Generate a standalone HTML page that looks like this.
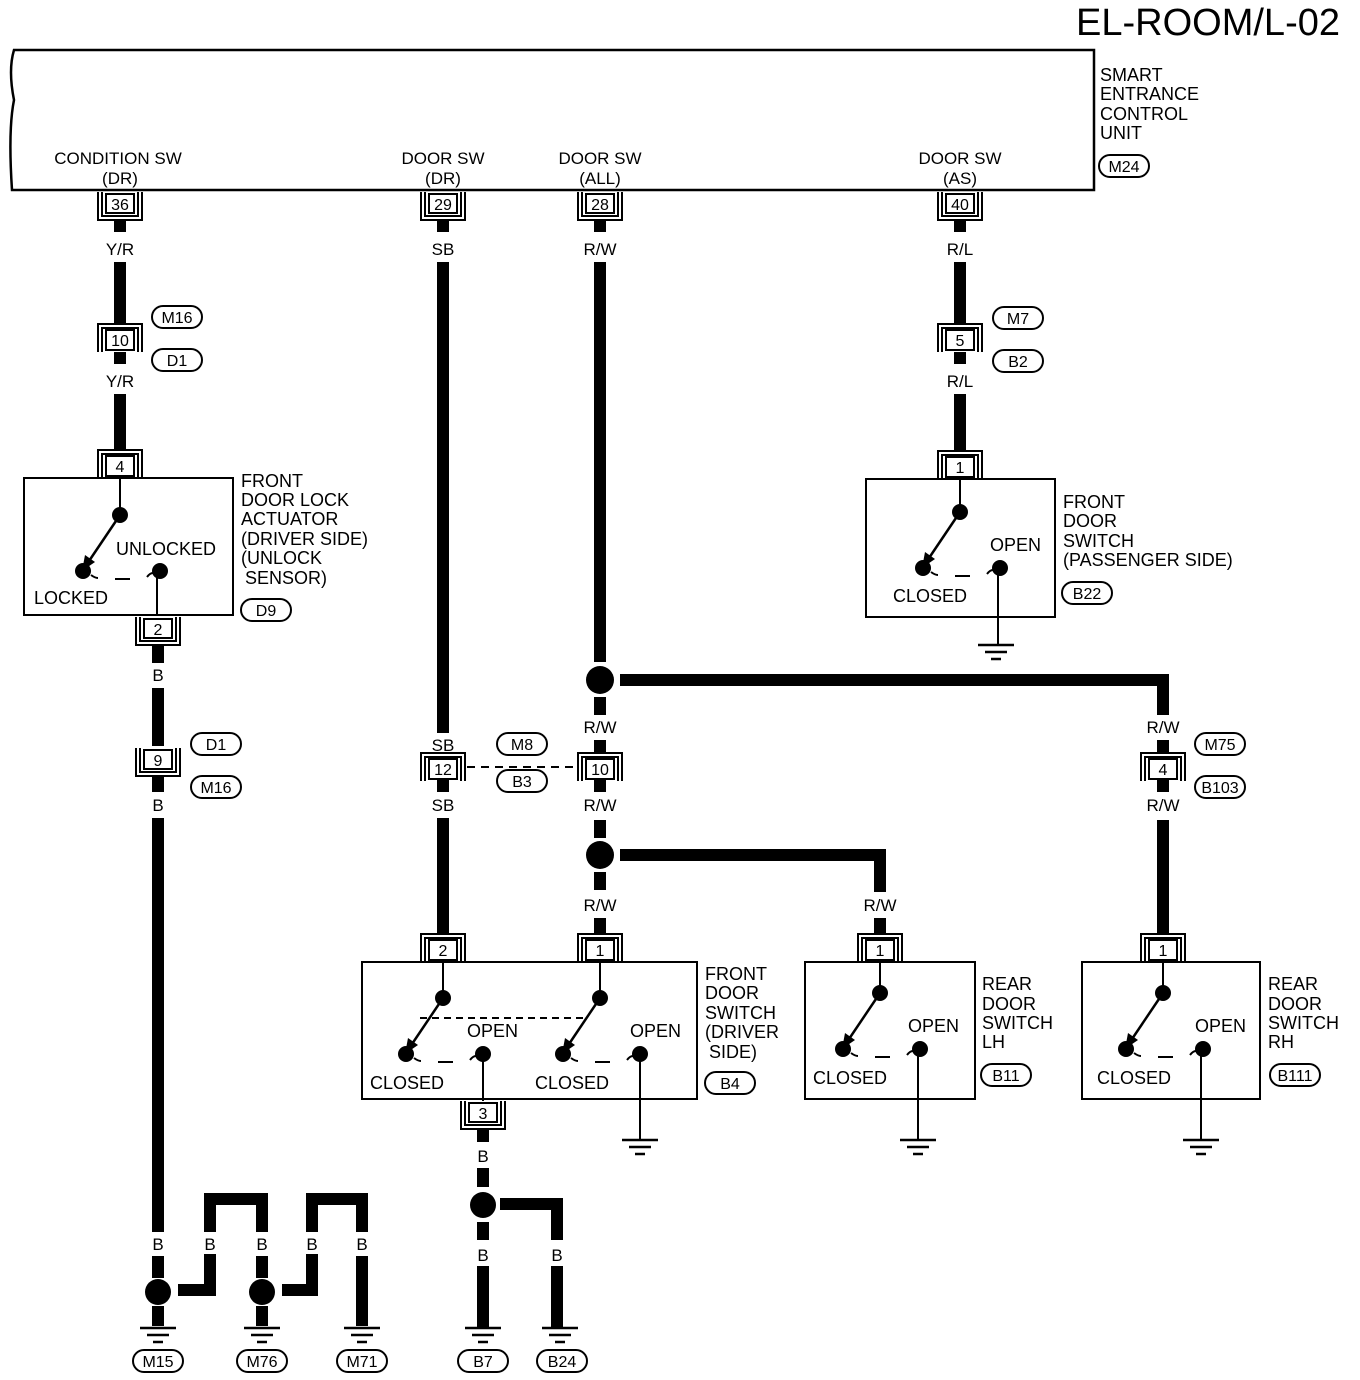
<!DOCTYPE html>
<html><head><meta charset="utf-8"><style>
html,body{margin:0;padding:0;background:#fff}
svg{display:block}
text{font-family:"Liberation Sans",Arial,sans-serif;fill:#000}
.w{stroke:#000;stroke-width:12;fill:none}
.t{stroke:#000;stroke-width:2;fill:none}
.l{font-size:18px}
.c{font-size:16px;text-anchor:middle}
.m{font-size:17px;text-anchor:middle}
</style></head><body>
<svg width="1360" height="1380" viewBox="0 0 1360 1380" xmlns="http://www.w3.org/2000/svg">
<defs>
<g id="cd"><path d="M-22,-2 V26 H22 V-2 M-18,-2 V22 H18 V-2" class="t"/><rect x="-14" y="0" width="28" height="19" fill="#fff" stroke="#000" stroke-width="2"/></g>
<g id="cu"><path d="M-22,22 V-6 H22 V22 M-18,22 V-2 H18 V22" class="t"/><rect x="-14" y="0" width="28" height="20" fill="#fff" stroke="#000" stroke-width="2"/></g>
<g id="gnd"><path d="M-18,0 H18 M-11,7 H11 M-5,14 H5" stroke="#000" stroke-width="2.5"/></g>
<g id="sw"><circle cx="0" cy="0" r="8"/><path d="M0,0 L-33,49" stroke="#000" stroke-width="2.5"/><path d="M-38,56 L-35,40 L-25,47 Z"/><circle cx="-37" cy="56" r="8"/><circle cx="40" cy="56" r="8"/><path d="M-29,60 Q-25,63 -22,63 M-5,64 H10 M27,62 Q30,58 33,58" class="t"/></g>
</defs>

<text x="1340" y="35" font-size="38" text-anchor="end">EL-ROOM/L-02</text>
<path d="M14,50 H1094 V190 H12 Q8,130 14,100 Q8,70 14,50 Z" stroke="#000" stroke-width="2.5" fill="none"/>
<text x="1100" y="81" class="l">SMART</text>
<text x="1100" y="100" class="l">ENTRANCE</text>
<text x="1100" y="120" class="l">CONTROL</text>
<text x="1100" y="139" class="l">UNIT</text>
<rect x="1099" y="155" width="50" height="22" rx="11" class="t"/><text x="1124" y="172" class="c">M24</text>

<text x="118" y="164" class="m">CONDITION SW</text><text x="120" y="184" class="m">(DR)</text>
<text x="443" y="164" class="m">DOOR SW</text><text x="443" y="184" class="m">(DR)</text>
<text x="600" y="164" class="m">DOOR SW</text><text x="600" y="184" class="m">(ALL)</text>
<text x="960" y="164" class="m">DOOR SW</text><text x="960" y="184" class="m">(AS)</text>

<!-- column A -->
<use href="#cd" x="120" y="194"/><text x="120" y="210" class="c">36</text>
<path d="M120,220 V232 M120,262 V324 M120,352 V364 M120,394 V450" class="w"/>
<text x="120" y="255" class="m">Y/R</text>
<use href="#cu" x="120" y="330"/>
<text x="120" y="346" class="c">10</text>
<text x="120" y="387" class="m">Y/R</text>
<rect x="152" y="306" width="50" height="22" rx="11" class="t"/><text x="177" y="323" class="c">M16</text>
<rect x="152" y="349" width="50" height="22" rx="11" class="t"/><text x="177" y="366" class="c">D1</text>
<use href="#cu" x="120" y="456"/><text x="120" y="472" class="c">4</text>
<rect x="24" y="478" width="209" height="137" class="t"/>
<path d="M120,478 V515" class="t"/>
<use href="#sw" x="120" y="515"/>
<path d="M157,571 V615" class="t"/>
<text x="116" y="555" class="l">UNLOCKED</text>
<text x="34" y="604" class="l">LOCKED</text>
<text x="241" y="487" class="l">FRONT</text>
<text x="241" y="506" class="l">DOOR LOCK</text>
<text x="241" y="525" class="l">ACTUATOR</text>
<text x="241" y="545" class="l">(DRIVER SIDE)</text>
<text x="241" y="564" class="l">(UNLOCK</text>
<text x="245" y="584" class="l">SENSOR)</text>
<rect x="241" y="599" width="50" height="22" rx="11" class="t"/><text x="266" y="616" class="c">D9</text>
<use href="#cd" x="158" y="619"/><text x="158" y="635" class="c">2</text>
<path d="M158,646 V663 M158,688 V746 M158,776 V792 M158,818 V1232 M158,1256 V1278 M158,1306 V1326" class="w"/>
<text x="158" y="681" class="m">B</text>
<use href="#cd" x="158" y="750"/><text x="158" y="766" class="c">9</text>
<rect x="191" y="733" width="50" height="22" rx="11" class="t"/><text x="216" y="750" class="c">D1</text>
<rect x="191" y="776" width="50" height="22" rx="11" class="t"/><text x="216" y="793" class="c">M16</text>
<text x="158" y="811" class="m">B</text>

<!-- bottom grounds left -->
<text x="158" y="1250" class="m">B</text>
<circle cx="158" cy="1292" r="13"/>
<path d="M178,1290 H210 V1254 M210,1232 V1199 H262 V1232 M262,1256 V1278 M262,1306 V1326" class="w"/>
<text x="210" y="1250" class="m">B</text><text x="262" y="1250" class="m">B</text>
<circle cx="262" cy="1292" r="13"/>
<path d="M282,1290 H312 V1254 M312,1232 V1199 H362 V1232 M362,1256 V1326" class="w"/>
<text x="312" y="1250" class="m">B</text><text x="362" y="1250" class="m">B</text>
<use href="#gnd" x="158" y="1328"/><use href="#gnd" x="262" y="1328"/><use href="#gnd" x="362" y="1328"/>
<rect x="133" y="1350" width="50" height="22" rx="11" class="t"/><text x="158" y="1367" class="c">M15</text>
<rect x="237" y="1350" width="50" height="22" rx="11" class="t"/><text x="262" y="1367" class="c">M76</text>
<rect x="337" y="1350" width="50" height="22" rx="11" class="t"/><text x="362" y="1367" class="c">M71</text>

<!-- column B -->
<use href="#cd" x="443" y="194"/><text x="443" y="210" class="c">29</text>
<path d="M443,220 V232 M443,262 V733 M443,779 V792 M443,818 V933" class="w"/>
<text x="443" y="255" class="m">SB</text>
<text x="443" y="751" class="m">SB</text>
<use href="#cu" x="443" y="759"/><text x="443" y="775" class="c">12</text>
<text x="443" y="811" class="m">SB</text>
<path d="M467,767 H576" stroke="#000" stroke-width="2" stroke-dasharray="8,6"/>
<rect x="497" y="733" width="50" height="22" rx="11" class="t"/><text x="522" y="750" class="c">M8</text>
<rect x="497" y="770" width="50" height="22" rx="11" class="t"/><text x="522" y="787" class="c">B3</text>
<use href="#cu" x="443" y="940"/><text x="443" y="956" class="c">2</text>
<rect x="362" y="962" width="335" height="137" class="t"/>
<path d="M443,962 V998 M600,962 V998" class="t"/>
<use href="#sw" x="443" y="998"/><use href="#sw" x="600" y="998"/>
<path d="M420,1018 H585" stroke="#000" stroke-width="2" stroke-dasharray="7,5"/>
<path d="M483,1054 V1101 M640,1054 V1140" class="t"/>
<use href="#gnd" x="640" y="1140"/>
<text x="467" y="1037" class="l">OPEN</text><text x="630" y="1037" class="l">OPEN</text>
<text x="370" y="1089" class="l">CLOSED</text><text x="535" y="1089" class="l">CLOSED</text>
<text x="705" y="980" class="l">FRONT</text>
<text x="705" y="999" class="l">DOOR</text>
<text x="705" y="1019" class="l">SWITCH</text>
<text x="705" y="1038" class="l">(DRIVER</text>
<text x="709" y="1058" class="l">SIDE)</text>
<rect x="705" y="1072" width="50" height="22" rx="11" class="t"/><text x="730" y="1089" class="c">B4</text>
<use href="#cd" x="483" y="1103"/><text x="483" y="1119" class="c">3</text>
<path d="M483,1130 V1142 M483,1168 V1187 M483,1222 V1240 M483,1266 V1328 M500,1204 H557 V1240 M557,1266 V1328" class="w"/>
<text x="483" y="1162" class="m">B</text>
<circle cx="483" cy="1205" r="13"/>
<text x="483" y="1261" class="m">B</text><text x="557" y="1261" class="m">B</text>
<use href="#gnd" x="483" y="1328"/><use href="#gnd" x="560" y="1328"/>
<rect x="458" y="1350" width="50" height="22" rx="11" class="t"/><text x="483" y="1367" class="c">B7</text>
<rect x="537" y="1350" width="50" height="22" rx="11" class="t"/><text x="562" y="1367" class="c">B24</text>

<!-- column C -->
<use href="#cd" x="600" y="194"/><text x="600" y="210" class="c">28</text>
<path d="M600,220 V232 M600,262 V662 M600,697 V715 M600,740 V753 M600,779 V792 M600,820 V838 M600,872 V890 M600,918 V933" class="w"/>
<text x="600" y="255" class="m">R/W</text>
<circle cx="600" cy="680" r="14"/>
<path d="M620,680 H1163 V715" class="w"/>
<text x="600" y="733" class="m">R/W</text>
<use href="#cu" x="600" y="759"/><text x="600" y="775" class="c">10</text>
<text x="600" y="811" class="m">R/W</text>
<circle cx="600" cy="855" r="14"/>
<path d="M620,855 H880 V892" class="w"/>
<text x="600" y="911" class="m">R/W</text>
<use href="#cu" x="600" y="940"/><text x="600" y="956" class="c">1</text>

<!-- rear LH -->
<text x="880" y="911" class="m">R/W</text>
<path d="M880,918 V933" class="w"/>
<use href="#cu" x="880" y="940"/><text x="880" y="956" class="c">1</text>
<rect x="805" y="962" width="170" height="137" class="t"/>
<path d="M880,962 V993 M918,1049 V1140" class="t"/>
<use href="#sw" x="880" y="993"/>
<use href="#gnd" x="918" y="1140"/>
<text x="908" y="1032" class="l">OPEN</text><text x="813" y="1084" class="l">CLOSED</text>
<text x="982" y="990" class="l">REAR</text><text x="982" y="1010" class="l">DOOR</text><text x="982" y="1029" class="l">SWITCH</text><text x="982" y="1048" class="l">LH</text>
<rect x="981" y="1064" width="50" height="22" rx="11" class="t"/><text x="1006" y="1081" class="c">B11</text>

<!-- rear RH -->
<text x="1163" y="733" class="m">R/W</text>
<path d="M1163,740 V753 M1163,779 V792 M1163,820 V933" class="w"/>
<use href="#cu" x="1163" y="759"/><text x="1163" y="775" class="c">4</text>
<rect x="1195" y="733" width="50" height="22" rx="11" class="t"/><text x="1220" y="750" class="c">M75</text>
<rect x="1195" y="776" width="50" height="22" rx="11" class="t"/><text x="1220" y="793" class="c">B103</text>
<text x="1163" y="811" class="m">R/W</text>
<use href="#cu" x="1163" y="940"/><text x="1163" y="956" class="c">1</text>
<rect x="1082" y="962" width="178" height="137" class="t"/>
<path d="M1163,962 V993 M1201,1049 V1140" class="t"/>
<use href="#sw" x="1163" y="993"/>
<use href="#gnd" x="1201" y="1140"/>
<text x="1195" y="1032" class="l">OPEN</text><text x="1097" y="1084" class="l">CLOSED</text>
<text x="1268" y="990" class="l">REAR</text><text x="1268" y="1010" class="l">DOOR</text><text x="1268" y="1029" class="l">SWITCH</text><text x="1268" y="1048" class="l">RH</text>
<rect x="1270" y="1064" width="50" height="22" rx="11" class="t"/><text x="1295" y="1081" class="c">B111</text>

<!-- column D -->
<use href="#cd" x="960" y="194"/><text x="960" y="210" class="c">40</text>
<path d="M960,220 V232 M960,262 V324 M960,352 V364 M960,394 V450" class="w"/>
<text x="960" y="255" class="m">R/L</text>
<use href="#cu" x="960" y="330"/><text x="960" y="346" class="c">5</text>
<rect x="993" y="307" width="50" height="22" rx="11" class="t"/><text x="1018" y="324" class="c">M7</text>
<rect x="993" y="350" width="50" height="22" rx="11" class="t"/><text x="1018" y="367" class="c">B2</text>
<text x="960" y="387" class="m">R/L</text>
<use href="#cu" x="960" y="457"/><text x="960" y="473" class="c">1</text>
<rect x="866" y="479" width="189" height="138" class="t"/>
<path d="M960,479 V512 M998,568 V645" class="t"/>
<use href="#sw" x="960" y="512"/>
<use href="#gnd" x="996" y="645"/>
<text x="990" y="551" class="l">OPEN</text><text x="893" y="602" class="l">CLOSED</text>
<text x="1063" y="508" class="l">FRONT</text><text x="1063" y="527" class="l">DOOR</text><text x="1063" y="547" class="l">SWITCH</text><text x="1063" y="566" class="l">(PASSENGER SIDE)</text>
<rect x="1062" y="582" width="50" height="22" rx="11" class="t"/><text x="1087" y="599" class="c">B22</text>
</svg>
</body></html>
